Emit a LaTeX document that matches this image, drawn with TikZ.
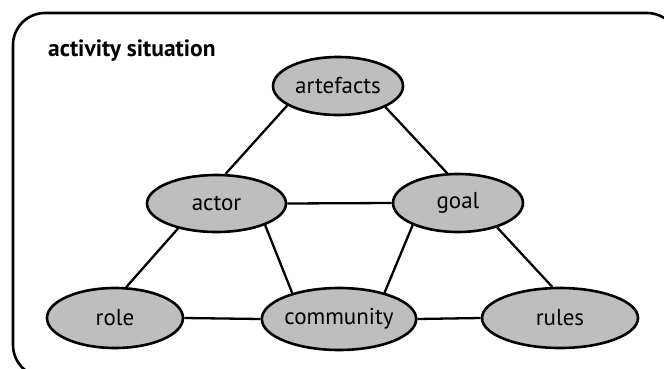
\documentclass[tikz,border=0pt]{standalone}
\usepackage{fontspec}
\setmainfont{PT Sans}
\usetikzlibrary{shapes.geometric}
\definecolor{nodegray}{RGB}{190,190,190}
\tikzset{
  concept/.style={ellipse, draw=black, line width=2.6pt, fill=nodegray,
    inner sep=0pt, font=\fontsize{23}{27}\selectfont},
  link/.style={draw=black, line width=2.3pt},
  frame/.style={draw=black, line width=2.6pt, rounded corners=32pt}
}
\begin{document}
\begin{tikzpicture}[x=1pt,y=-1pt]
  \useasboundingbox (0,0) rectangle (664,369);
  % outer frame (runs past the lower and right edges)
  \draw[frame] (13,13) rectangle (679,377);
  \node[anchor=base west, inner sep=0pt, font=\fontsize{23.5}{28}\selectfont\bfseries] (title) at (48,57) {activity situation};

  % concepts
  \node[concept, minimum width=130pt, minimum height=58pt] (artefacts) at (338,86) {artefacts};
  \node[concept, minimum width=139pt, minimum height=57pt] (actor) at (216.5,203.5) {actor};
  \node[concept, minimum width=130pt, minimum height=58pt] (goal) at (458,203) {goal};
  \node[concept, minimum width=136pt, minimum height=60pt] (role) at (115,318) {role};
  \node[concept, minimum width=154pt, minimum height=62pt] (community) at (339,319) {community};
  \node[concept, minimum width=156pt, minimum height=60pt] (rules) at (560,318) {rules};

  % relations
  \draw[link] (artefacts.201) -- (actor.73);
  \draw[link] (artefacts.336) -- (goal.110);
  \draw[link] (actor.east) -- (goal.west);
  \draw[link] (actor.213) -- (role.70);
  \draw[link] (actor.336) -- (community.151);
  \draw[link] (goal.206) -- (community.30);
  \draw[link] (goal.328) -- (rules.104);
  \draw[link] (role.east) -- (community.west);
  \draw[link] (community.east) -- (rules.west);
\end{tikzpicture}
\end{document}
